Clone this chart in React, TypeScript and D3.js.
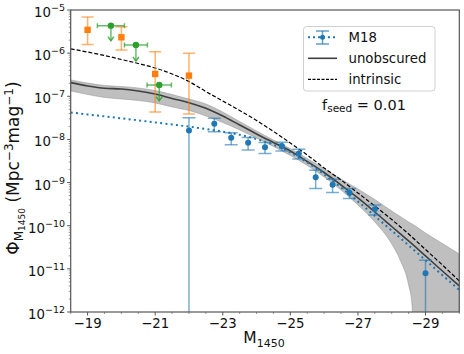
import React from "react";
import * as d3 from "d3";

// model curves, read every 0.5 mag
const curveMag = [
  -18.5, -19, -19.5, -20, -20.5, -21, -21.5, -22, -22.5, -23, -23.5, -24,
  -24.5, -25, -25.5, -26, -26.5, -27, -27.5, -28, -28.5, -29, -29.5, -30,
];
const intrinsic = [
  1.26e-6, 1.06e-6, 8.83e-7, 7.13e-7, 5.75e-7, 4.53e-7, 3.29e-7, 2.2e-7,
  1.29e-7, 7.78e-8, 4.69e-8, 2.75e-8, 1.53e-8, 8.26e-9, 4.36e-9, 2.18e-9,
  1.15e-9, 5.73e-10, 2.86e-10, 1.39e-10, 6.43e-11, 2.81e-11, 1.23e-11, 5.24e-12,
];
const unobscured = [
  2.07e-7, 1.73e-7, 1.53e-7, 1.48e-7, 1.33e-7, 1.13e-7, 8.89e-8, 7.11e-8,
  5.27e-8, 3.49e-8, 2.16e-8, 1.34e-8, 8.49e-9, 5.4e-9, 3.08e-9, 1.71e-9,
  8.79e-10, 4.4e-10, 2.08e-10, 9.59e-11, 4.43e-11, 1.99e-11, 8.91e-12, 4.01e-12,
];
const m18Fit = [
  4.23e-8, 3.8e-8, 3.42e-8, 3.08e-8, 2.76e-8, 2.48e-8, 2.22e-8, 1.98e-8,
  1.75e-8, 1.52e-8, 1.28e-8, 1.02e-8, 7.53e-9, 4.97e-9, 2.92e-9, 1.55e-9,
  7.67e-10, 3.64e-10, 1.68e-10, 7.69e-11, 3.49e-11, 1.58e-11, 7.13e-12, 3.24e-12,
];

// shaded band around the unobscured curve
const bandMag = [
  -18.5, -19, -19.5, -20, -20.5, -21, -21.5, -22, -22.5, -23, -23.5, -24,
  -24.5, -25, -25.5, -26, -26.5, -27, -27.5, -28, -28.25, -28.5, -28.6, -28.7,
  -29, -29.5, -30,
];
const bandHigh = [
  2.39e-7, 2.03e-7, 1.78e-7, 1.69e-7, 1.56e-7, 1.36e-7, 1.1e-7, 8.65e-8,
  6.64e-8, 4.32e-8, 2.61e-8, 1.57e-8, 9.7e-9, 6.17e-9, 3.61e-9, 2.12e-9,
  1.21e-9, 7.1e-10, 4.06e-10, 2.19e-10, 1.64e-10, 1.22e-10, 1.1e-10, 9.84e-11,
  6.78e-11, 3.87e-11, 2.21e-11,
];
const bandLow = [
  1.33e-7, 1.1e-7, 9.38e-8, 8.65e-8, 8.0e-8, 7.0e-8, 5.65e-8, 4.69e-8,
  3.49e-8, 2.47e-8, 1.66e-8, 1.08e-8, 6.85e-9, 4.25e-9, 2.49e-9, 1.35e-9,
  6.73e-10, 3.02e-10, 1.22e-10, 3.77e-11, 1.6e-11, 4.23e-12, 1.45e-12, 1e-14,
  1e-14, 1e-14, 1e-14,
];

// M18 binned points
const m18Mag = [-22, -22.75, -23.25, -23.75, -24.25, -24.75, -25.25, -25.75, -26.25, -26.75, -27.5, -29];
const m18Phi = [1.6e-8, 2.3e-8, 1.09e-8, 8.4e-9, 6.6e-9, 7.0e-9, 4.7e-9, 1.33e-9, 8.9e-10, 5.8e-10, 2.4e-10, 7.9e-12];
const m18Err = [1.6e-8, 8.0e-9, 3.4e-9, 2.7e-9, 1.9e-9, 1.6e-9, 1.2e-9, 6.0e-10, 3.0e-10, 1.5e-10, 6.2e-11, 7.9e-12];

// orange squares
const orangeMag = [-19, -20, -21, -22];
const orangePhi = [3.47e-6, 2.33e-6, 3.29e-7, 3.01e-7];
const orangeLow = [1.58e-6, 1.18e-6, 4.33e-8, 3.89e-8];
const orangeHigh = [6.92e-6, 4.1e-6, 1.08e-6, 9.93e-7];

// green upper limits
const greenMag = [-19.69, -20.43, -21.12];
const greenMagErr = [0.4, 0.34, 0.36];
const greenPhi = [4.34e-6, 1.55e-6, 1.83e-7];
const greenLimit = [1.95e-6, 6.6e-7, 7.9e-8];

const xTicks = [-19, -21, -23, -25, -27, -29];
const yTickExp = [-5, -6, -7, -8, -9, -10, -11, -12];

const BLUE = "#1f77b4";
const ORANGE = "#ff7f0e";
const GREEN = "#2ca02c";
const FONT = "DejaVu Sans, sans-serif";

export default function App() {
  const left = 70.7, right = 459.3, top = 10, bottom = 312;
  const x = d3.scaleLinear().domain([-18.5, -30]).range([left, right]);
  const y = d3.scaleLog().domain([1e-12, 1e-5]).range([bottom, top]);
  const yc = (v: number) => (v > 0 ? y(v) : bottom + 60);

  const curve = (vals: number[]) =>
    d3
      .line<number>()
      .x((_, i) => x(curveMag[i]))
      .y((d) => y(d))
      .curve(d3.curveMonotoneX)(vals) as string;

  const band = d3
    .area<number>()
    .x((_, i) => x(bandMag[i]))
    .y0((_, i) => yc(bandLow[i]))
    .y1((d) => y(d))
    .curve(d3.curveMonotoneX)(bandHigh) as string;

  const minorX = d3.range(-18.5, -30.01, -0.5).filter((m) => !xTicks.includes(m));
  const minorY: number[] = [];
  for (let e = -12; e < -5; e++) for (let k = 2; k < 10; k++) minorY.push(k * Math.pow(10, e));

  const lx = 308, rx = 337, tx = 348.5;

  return (
    <svg width={464} height={354} style={{ position: "absolute", left: 0, top: 0 }} fontFamily={FONT}>
      <defs>
        <clipPath id="plot">
          <rect x={left} y={top} width={right - left} height={bottom - top} />
        </clipPath>
      </defs>
      <rect width={464} height={354} fill="white" />

      <g clipPath="url(#plot)">
        <path d={band} fill="#808080" fillOpacity={0.5} stroke="#808080" strokeOpacity={0.4} strokeWidth={1} />
        <path d={curve(unobscured)} fill="none" stroke="#404040" strokeWidth={1.6} />
        <path d={curve(intrinsic)} fill="none" stroke="black" strokeWidth={1.2} strokeDasharray="4,2" />
        <path d={curve(m18Fit)} fill="none" stroke={BLUE} strokeWidth={2} strokeDasharray="2,3.3" />

        {/* M18 points */}
        {m18Mag.map((m, i) => {
          const cx = x(m);
          const hi = y(m18Phi[i] + m18Err[i]);
          const lo = yc(m18Phi[i] - m18Err[i]);
          return (
            <g key={"b" + i}>
              <line x1={cx} x2={cx} y1={hi} y2={lo} stroke={BLUE} strokeOpacity={0.6} strokeWidth={1.5} />
              <line x1={cx - 6.5} x2={cx + 6.5} y1={hi} y2={hi} stroke={BLUE} strokeOpacity={0.6} strokeWidth={1.5} />
              <line x1={cx - 6.5} x2={cx + 6.5} y1={lo} y2={lo} stroke={BLUE} strokeOpacity={0.6} strokeWidth={1.5} />
              <circle cx={cx} cy={y(m18Phi[i])} r={3} fill={BLUE} />
            </g>
          );
        })}

        {/* orange squares */}
        {orangeMag.map((m, i) => {
          const cx = x(m);
          const hi = y(orangeHigh[i]);
          const lo = y(orangeLow[i]);
          return (
            <g key={"o" + i}>
              <line x1={cx} x2={cx} y1={hi} y2={lo} stroke={ORANGE} strokeOpacity={0.6} strokeWidth={1.5} />
              <line x1={cx - 6} x2={cx + 6} y1={hi} y2={hi} stroke={ORANGE} strokeOpacity={0.6} strokeWidth={1.5} />
              <line x1={cx - 6} x2={cx + 6} y1={lo} y2={lo} stroke={ORANGE} strokeOpacity={0.6} strokeWidth={1.5} />
              <rect x={cx - 3.2} y={y(orangePhi[i]) - 3.2} width={6.4} height={6.4} fill={ORANGE} />
            </g>
          );
        })}

        {/* green upper limits */}
        {greenMag.map((m, i) => {
          const cx = x(m);
          const cy = y(greenPhi[i]);
          const x0 = x(m + greenMagErr[i]);
          const x1 = x(m - greenMagErr[i]);
          const ty = y(greenLimit[i]);
          return (
            <g key={"g" + i}>
              <line x1={x0} x2={x1} y1={cy} y2={cy} stroke={GREEN} strokeOpacity={0.7} strokeWidth={1.5} />
              <line x1={x0} x2={x0} y1={cy - 2.5} y2={cy + 2.5} stroke={GREEN} strokeOpacity={0.7} strokeWidth={1.5} />
              <line x1={x1} x2={x1} y1={cy - 2.5} y2={cy + 2.5} stroke={GREEN} strokeOpacity={0.7} strokeWidth={1.5} />
              <line x1={cx} x2={cx} y1={cy} y2={ty} stroke={GREEN} strokeOpacity={0.7} strokeWidth={1.5} />
              <path d={`M${cx - 3},${ty - 4}L${cx},${ty}L${cx + 3},${ty - 4}`} fill="none" stroke={GREEN} strokeOpacity={0.8} strokeWidth={1.5} />
              <circle cx={cx} cy={cy} r={3.2} fill={GREEN} />
            </g>
          );
        })}
      </g>

      {/* frame */}
      <rect x={left} y={top} width={right - left} height={bottom - top} fill="none" stroke="#555" strokeWidth={1.2} />

      {/* x ticks */}
      {xTicks.map((t) => (
        <g key={"xt" + t}>
          <line x1={x(t)} x2={x(t)} y1={bottom} y2={bottom + 3.5} stroke="#555" />
          <text x={x(t)} y={328} fontSize={13.3} textAnchor="middle" fill="#111">
            {"\u2212" + Math.abs(t)}
          </text>
        </g>
      ))}
      {minorX.map((t) => (
        <line key={"xm" + t} x1={x(t)} x2={x(t)} y1={bottom} y2={bottom + 2} stroke="#555" strokeWidth={0.6} />
      ))}

      {/* y ticks */}
      {yTickExp.map((e) => {
        const yy = y(Math.pow(10, e));
        return (
          <g key={"yt" + e}>
            <line x1={left - 3.5} x2={left} y1={yy} y2={yy} stroke="#555" />
            <text x={65} y={yy + 7} fontSize={13.3} textAnchor="end" fill="#111">
              10
              <tspan dy={-6} fontSize={9.5}>{"\u2212" + Math.abs(e)}</tspan>
            </text>
          </g>
        );
      })}
      {minorY.map((v, i) => (
        <line key={"ym" + i} x1={left - 2} x2={left} y1={y(v)} y2={y(v)} stroke="#555" strokeWidth={0.6} />
      ))}

      {/* axis labels */}
      <text x={264} y={343} fontSize={15.5} textAnchor="middle" fill="#111">
        M<tspan dy={3.5} fontSize={11}>1450</tspan>
      </text>
      <text transform="translate(19,168) rotate(-90)" fontSize={17} textAnchor="middle" fill="#111">
        Φ<tspan dy={3.5} fontSize={12}>M</tspan>
        <tspan dy={2.5} fontSize={9}>1450</tspan>
        <tspan dy={-6}> (Mpc</tspan>
        <tspan dy={-6} fontSize={12}>{"\u22123"}</tspan>
        <tspan dy={6}>mag</tspan>
        <tspan dy={-6} fontSize={12}>{"\u22121"}</tspan>
        <tspan dy={6}>)</tspan>
      </text>

      {/* legend */}
      <rect x={303.5} y={26.5} width={131.5} height={64.5} rx={3} fill="white" fillOpacity={0.8} stroke="#d0d0d0" />
      <line x1={lx} x2={rx} y1={37.3} y2={37.3} stroke={BLUE} strokeWidth={2} strokeDasharray="2,3" />
      <line x1={322.5} x2={322.5} y1={31} y2={44} stroke={BLUE} strokeOpacity={0.7} strokeWidth={1.5} />
      <line x1={316} x2={329} y1={31} y2={31} stroke={BLUE} strokeOpacity={0.7} strokeWidth={1.5} />
      <line x1={316} x2={329} y1={44} y2={44} stroke={BLUE} strokeOpacity={0.7} strokeWidth={1.5} />
      <circle cx={322.5} cy={37.3} r={2.5} fill={BLUE} />
      <text x={tx} y={42} fontSize={13.3} fill="#111">M18</text>
      <line x1={lx} x2={rx} y1={58.3} y2={58.3} stroke="#404040" strokeWidth={1.6} />
      <text x={tx} y={63} fontSize={13.3} fill="#111">unobscured</text>
      <line x1={lx} x2={rx} y1={79.3} y2={79.3} stroke="black" strokeWidth={1.2} strokeDasharray="3,1.5" />
      <text x={tx} y={84} fontSize={13.3} fill="#111">intrinsic</text>

      <text x={364} y={109.5} fontSize={14.5} textAnchor="middle" fill="#111">
        f<tspan dy={2.5} fontSize={10.5}>seed</tspan>
        <tspan dy={-2.5}> = 0.01</tspan>
      </text>
    </svg>
  );
}
